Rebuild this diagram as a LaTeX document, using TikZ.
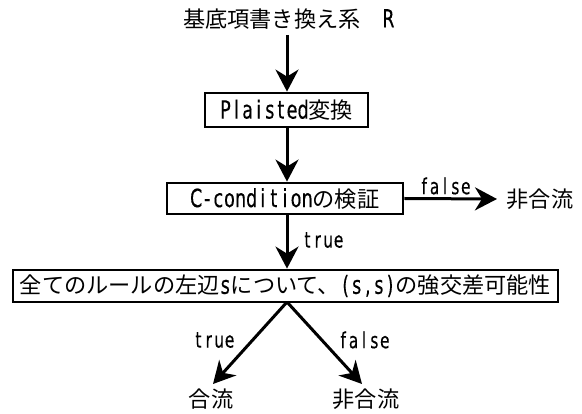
\documentclass[tikz,border=0pt]{standalone}
\usepackage{fontspec}
\setmainfont{Noto Sans CJK JP}
\newfontfamily\lat[FakeStretch=0.7,FakeBold=0.3]{DejaVu Sans}
\usetikzlibrary{arrows.meta}
\ExplSyntaxOn
\NewDocumentCommand\hw{O{11.1pt}O{25}m}{\tl_map_inline:nn{#3}{\makebox[#1][c]{\lat\fontsize{#2}{26}\selectfont ##1}}}
\ExplSyntaxOff
\begin{document}
\begin{tikzpicture}[x=1pt,y=-1pt,
  every node/.style={font=\fontsize{22.2}{26}\selectfont, inner sep=0pt},
  stepbox/.style={draw, line width=2.8pt},
  arr/.style={line width=3pt, -{Stealth[length=22pt,width=23pt,inset=7pt]}},
  lbl/.style={}]
\useasboundingbox (0,0) rectangle (582,414);
\node (title) at (288.5,19) {基底項書き換え系　\hw{R}};
\node[stepbox, minimum width=163pt, minimum height=34pt] (b1) at (286.5,110) {\hw{Plaisted}変換};
\node[stepbox, minimum width=236pt, minimum height=31pt] (b2) at (285,198.5) {\hw{C-condition}の検証};
\node[stepbox, minimum width=545pt, minimum height=32pt] (b3) at (285.5,286) {全てのルールの左辺\hw{s}について、\hw{(s,s)}の強交差可能性};
\node (n1) at (540,199) {非合流};
\node (c1) at (211,399) {合流};
\node (c2) at (366,399) {非合流};
\coordinate (t0) at (287,35);
\coordinate (t1) at (287,127);
\coordinate (t2) at (287,214);
\coordinate (ap) at (287,302);
\coordinate (fe) at (497,199);
\coordinate (lt) at (213,384);
\coordinate (rt) at (362,384);
\draw[arr] (t0) -- (t0 |- b1.north);
\draw[arr] (t1) -- (t1 |- b2.north);
\draw[arr] (t2) -- (t2 |- b3.north);
\draw[arr] (b2.east) -- (fe);
\draw[arr] (ap) -- (lt);
\draw[arr] (ap) -- (rt);
\node[lbl] (lf1) at (445,186) {\hw[10.4pt][22]{false}};
\node[lbl] (lt1) at (323,240) {\hw[10.4pt][22]{true}};
\node[lbl] (lt2) at (214,340) {\hw[10.4pt][22]{true}};
\node[lbl] (lf2) at (364,340) {\hw[10.4pt][22]{false}};
\end{tikzpicture}
\end{document}
